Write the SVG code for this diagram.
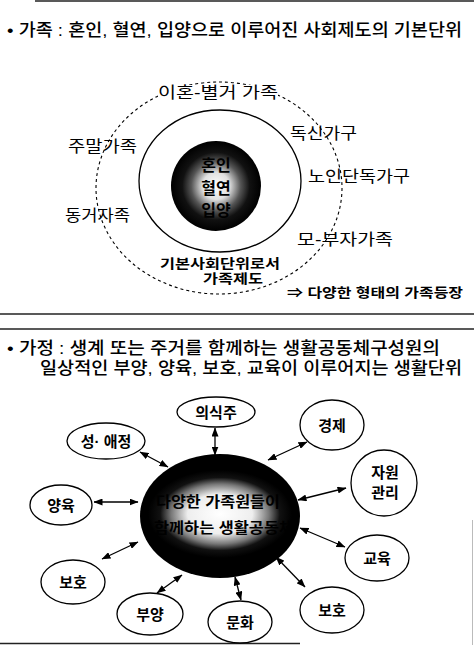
<svg xmlns="http://www.w3.org/2000/svg" width="474" height="645" viewBox="0 0 474 645">
<style>
text{font-family:"Liberation Sans","Noto Sans CJK KR",sans-serif;fill:#000}
.t{font-size:17px;font-weight:500}
.l{font-size:16px}
.b{font-size:13px;font-weight:bold}
.s{font-size:16px;font-weight:bold}
.n{font-size:15px;font-weight:bold;text-anchor:middle}
.e{fill:#fff;stroke:#000;stroke-width:1.3}
.c{stroke:#000;stroke-width:1.3;fill:none;marker-start:url(#ah);marker-end:url(#ah)}
.rule{stroke:#222;stroke-width:1.5}
</style>
<defs>
<radialGradient id="g1" cx="0.5" cy="0.5" r="0.5">
<stop offset="0" stop-color="#fff"/>
<stop offset="0.3" stop-color="#e0e0e0"/>
<stop offset="0.55" stop-color="#555"/>
<stop offset="0.75" stop-color="#111"/>
<stop offset="1" stop-color="#000"/>
</radialGradient>
<radialGradient id="g2" gradientUnits="userSpaceOnUse" cx="0" cy="0" r="1" gradientTransform="translate(220 514) scale(72 44)">
<stop offset="0" stop-color="#fff"/>
<stop offset="0.45" stop-color="#eee"/>
<stop offset="0.68" stop-color="#777"/>
<stop offset="0.83" stop-color="#111"/>
<stop offset="1" stop-color="#000"/>
</radialGradient>
<marker id="ah" viewBox="0 0 9 7" refX="8.5" refY="3.5" markerWidth="9" markerHeight="7" markerUnits="userSpaceOnUse" orient="auto-start-reverse">
<path d="M0,0 L9,3.5 L0,7 z" fill="#000"/>
</marker>
</defs>
<rect width="474" height="645" fill="#fff"/>
<g id="rules">
<line class="rule" x1="35" y1="1" x2="474" y2="1" stroke="#555"/>
<line class="rule" x1="0" y1="314" x2="474" y2="314"/>
<line class="rule" x1="0" y1="329" x2="474" y2="329"/>
<line class="rule" x1="0" y1="643.5" x2="300" y2="643.5" stroke="#666"/>
<line x1="472.5" y1="520" x2="472.5" y2="645" stroke="#bbb" stroke-width="1"/>
</g>
<g id="title1"><text class="t" x="7" y="35.5" textLength="455" lengthAdjust="spacingAndGlyphs">• 가족 : 혼인, 혈연, 입양으로 이루어진 사회제도의 기본단위</text></g>
<g id="family-diagram">
<g id="outer-ring"><ellipse cx="219" cy="188" rx="123" ry="106" fill="none" stroke="#000" stroke-width="1.1" stroke-dasharray="3,3"/></g>
<g id="inner-ring"><ellipse cx="220" cy="181" rx="81" ry="71" fill="#fff" stroke="#000" stroke-width="1.3"/></g>
<g id="core">
<circle cx="216" cy="186" r="45" fill="url(#g1)"/>
<text class="s" text-anchor="middle"><tspan x="216" y="171">혼인</tspan><tspan x="216" y="194">혈연</tspan><tspan x="216" y="215.5">입양</tspan></text>
</g>
<g id="lbl-divorce"><rect x="158" y="85" width="120" height="16" fill="#fff"/><text class="l" x="158" y="98" textLength="120" lengthAdjust="spacingAndGlyphs">이혼-별거 가족</text></g>
<g id="lbl-weekend"><text class="l" x="68" y="152" textLength="69" lengthAdjust="spacingAndGlyphs">주말가족</text></g>
<g id="lbl-single"><text class="l" x="290" y="139" textLength="67" lengthAdjust="spacingAndGlyphs">독신가구</text></g>
<g id="lbl-elderly"><text class="l" x="308" y="182" textLength="102" lengthAdjust="spacingAndGlyphs">노인단독가구</text></g>
<g id="lbl-cohab"><text class="l" x="65" y="221" textLength="65" lengthAdjust="spacingAndGlyphs">동거자족</text></g>
<g id="lbl-single-parent"><text class="l" x="297" y="245" textLength="96" lengthAdjust="spacingAndGlyphs">모-부자가족</text></g>
<g id="lbl-institution">
<text class="b"><tspan x="160" y="268" textLength="120" lengthAdjust="spacingAndGlyphs">기본사회단위로서</tspan><tspan x="203" y="283" textLength="60" lengthAdjust="spacingAndGlyphs">가족제도</tspan></text>
</g>
<g id="lbl-result"><text class="b" x="287" y="297" textLength="176" lengthAdjust="spacingAndGlyphs">⇒ 다양한 형태의 가족등장</text></g>
</g>
<g id="title2">
<text class="t"><tspan x="7" y="354" textLength="433" lengthAdjust="spacingAndGlyphs">• 가정 : 생계 또는 주거를 함께하는 생활공동체구성원의</tspan><tspan x="40" y="374" textLength="422" lengthAdjust="spacingAndGlyphs">일상적인 부양, 양육, 보호, 교육이 이루어지는 생활단위</tspan></text>
</g>
<g id="connectors">
<line class="c" x1="215" y1="428" x2="215" y2="455"/>
<line class="c" x1="140" y1="452" x2="168" y2="467"/>
<line class="c" x1="94" y1="502" x2="138" y2="502"/>
<line class="c" x1="268" y1="460" x2="307" y2="442"/>
<line class="c" x1="298" y1="500" x2="346" y2="488"/>
<line class="c" x1="300" y1="528" x2="345" y2="547"/>
<line class="c" x1="276" y1="557" x2="305" y2="587"/>
<line class="c" x1="235" y1="577" x2="241" y2="600"/>
<line class="c" x1="182" y1="575" x2="157" y2="593"/>
<line class="c" x1="138" y1="542" x2="102" y2="559"/>
</g>
<g id="household">
<ellipse cx="220" cy="516" rx="80" ry="62" fill="url(#g2)"/>
<text class="n"><tspan x="218" y="507" textLength="124" lengthAdjust="spacingAndGlyphs">다양한 가족원들이</tspan><tspan x="224" y="533" textLength="140" lengthAdjust="spacingAndGlyphs">함께하는 생활공동체</tspan></text>
</g>
<g id="n-clothing"><ellipse class="e" cx="216" cy="412" rx="39" ry="15"/><text class="n" x="216" y="418">의식주</text></g>
<g id="n-affection"><ellipse class="e" cx="106" cy="441" rx="39" ry="18"/><text class="n" x="106" y="447">성· 애정</text></g>
<g id="n-rearing"><ellipse class="e" cx="61" cy="505" rx="31" ry="20"/><text class="n" x="61" y="511">양육</text></g>
<g id="n-economy"><ellipse class="e" cx="332" cy="425" rx="32" ry="25"/><text class="n" x="332" y="431">경제</text></g>
<g id="n-resources"><ellipse class="e" cx="384" cy="483" rx="33" ry="33"/><text class="n"><tspan x="385" y="478">자원</tspan><tspan x="385" y="498">관리</tspan></text></g>
<g id="n-education"><ellipse class="e" cx="377" cy="558" rx="32" ry="23"/><text class="n" x="377" y="564">교육</text></g>
<g id="n-protect-r"><ellipse class="e" cx="332" cy="610" rx="32" ry="23"/><text class="n" x="332" y="616">보호</text></g>
<g id="n-culture"><ellipse class="e" cx="240" cy="622" rx="32" ry="21"/><text class="n" x="240" y="628">문화</text></g>
<g id="n-support"><ellipse class="e" cx="150" cy="614" rx="33" ry="21"/><text class="n" x="150" y="620">부양</text></g>
<g id="n-protect-l"><ellipse class="e" cx="73" cy="582" rx="32" ry="22"/><text class="n" x="73" y="588">보호</text></g>
</svg>
